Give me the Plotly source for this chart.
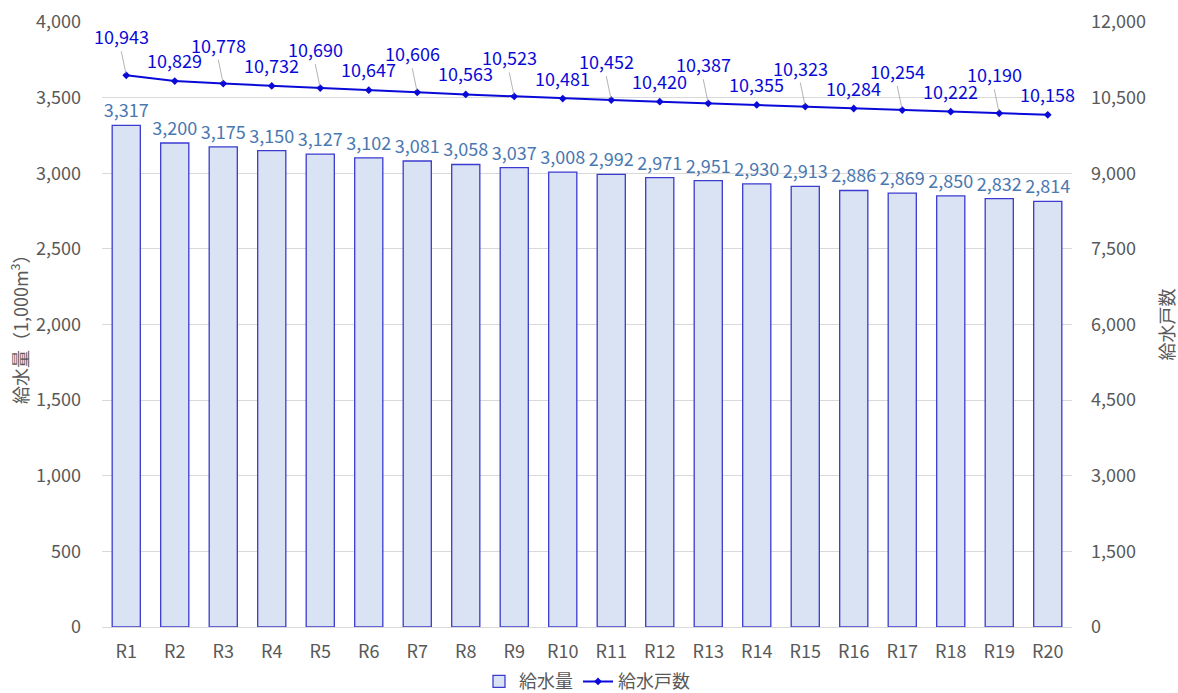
import plotly.graph_objects as go

years = [f"R{i}" for i in range(1, 21)]
supply = [3317, 3200, 3175, 3150, 3127, 3102, 3081, 3058, 3037, 3008,
          2992, 2971, 2951, 2930, 2913, 2886, 2869, 2850, 2832, 2814]
households = [10943, 10829, 10778, 10732, 10690, 10647, 10606, 10563, 10523, 10481,
              10452, 10420, 10387, 10355, 10323, 10284, 10254, 10222, 10190, 10158]

FONT = "Noto Sans CJK JP, Open Sans, sans-serif"
LINE_BLUE = "#0a0ad8"
BAR_TEXT = "#4a78b0"
TICK = "#595959"
FS = 18

fig = go.Figure()

fig.add_trace(go.Bar(
    x=years, y=supply, name="給水量",
    marker=dict(color="#dae3f3", line=dict(color="#3b3bd0", width=1.3)),
    text=[f"{v:,}" for v in supply], textposition="outside",
    constraintext="none",
    textfont=dict(color=BAR_TEXT, size=FS, family=FONT),
    cliponaxis=False,
))

fig.add_trace(go.Scatter(
    x=years, y=households, name="給水戸数", yaxis="y2",
    mode="lines+markers",
    line=dict(color=LINE_BLUE, width=2),
    marker=dict(color=LINE_BLUE, size=6, symbol="diamond"),
))

# Line data labels: alternate high labels with leader lines and low labels without
for i, (x, v) in enumerate(zip(years, households)):
    if i % 2 == 0:
        fig.add_annotation(
            x=x, y=v, xref="x", yref="y2", text=f"{v:,}",
            showarrow=True, arrowhead=0, arrowwidth=0.8, arrowcolor="#a0a0a0",
            ax=-5, ay=-24, yanchor="bottom", standoff=2,
            font=dict(color=LINE_BLUE, size=FS, family=FONT),
        )
    else:
        fig.add_annotation(
            x=x, y=v, xref="x", yref="y2", text=f"{v:,}",
            showarrow=False, yanchor="bottom", yshift=6,
            font=dict(color=LINE_BLUE, size=FS, family=FONT),
        )

# Axis titles
fig.add_annotation(
    x=-0.086, y=0.5, xref="paper", yref="paper", xanchor="center", yanchor="middle",
    text="給水量（1,000m<sup>3</sup>）", textangle=-90, showarrow=False,
    font=dict(size=FS, color=TICK, family=FONT),
)
fig.add_annotation(
    x=1.096, y=0.5, xref="paper", yref="paper", xanchor="center", yanchor="middle",
    text="給水戸数", textangle=-90, showarrow=False,
    font=dict(size=FS, color=TICK, family=FONT),
)

fig.update_layout(
    width=1178, height=693,
    margin=dict(l=102, r=106, t=22, b=66),
    paper_bgcolor="white", plot_bgcolor="white",
    font=dict(family=FONT, color=TICK, size=FS),
    bargap=0.42,
    showlegend=True,
    legend=dict(orientation="h", x=0.5, xanchor="center",
                yref="container", y=0.043, yanchor="top",
                font=dict(size=FS, color=TICK, family=FONT), itemwidth=30,
                tracegroupgap=0, traceorder="normal"),
    xaxis=dict(range=[-0.5, 19.5], showgrid=False, tickfont=dict(size=FS, color=TICK),
               automargin=False, showline=True, linecolor="#d9d9d9", ticks="",
               ticklabelstandoff=8),
    yaxis=dict(range=[0, 4000], dtick=500, tickformat=",d", automargin=False,
               gridcolor="#d9d9d9", zeroline=False, ticklabelstandoff=20,
               tickfont=dict(size=FS, color=TICK)),
    yaxis2=dict(range=[0, 12000], dtick=1500, tickformat=",d", automargin=False,
                overlaying="y", side="right", showgrid=False, zeroline=False,
                ticklabelstandoff=18, tickfont=dict(size=FS, color=TICK)),
)

fig.write_html("out.html")
